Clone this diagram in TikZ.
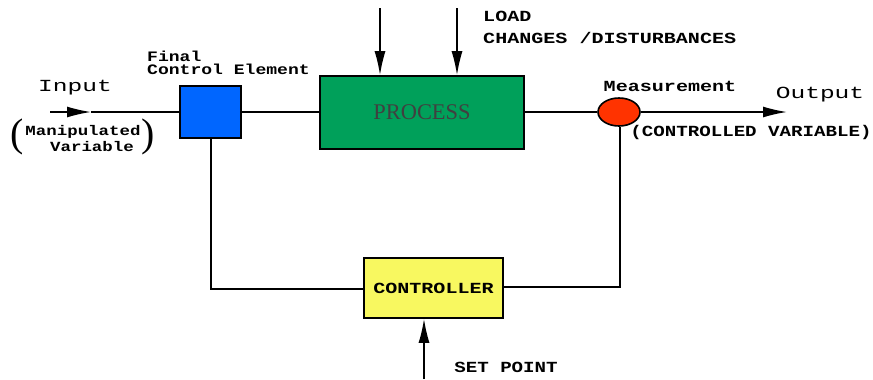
\documentclass[tikz,border=0pt]{standalone}
\usepackage{fontspec}
\usepackage{graphicx}
\setmainfont{Liberation Serif}
\newfontfamily\labfont{Liberation Mono}
\usetikzlibrary{arrows.meta,shapes.geometric}
\definecolor{fceblue}{RGB}{0,102,255}
\definecolor{procgreen}{RGB}{0,160,90}
\definecolor{measred}{RGB}{255,51,0}
\definecolor{ctrlyellow}{RGB}{248,248,96}
\newcommand{\widetxt}[2][1.3]{\scalebox{#1}[1]{#2}}
\tikzset{
  wire/.style={line width=1.6bp, black},
  arrowwire/.style={wire, -{Latex[length=24bp,width=11bp]}},
  blockbox/.style={draw, line width=1.6bp, rectangle, inner sep=0pt},
  lab/.style={font=\labfont\bfseries\fontsize{15.5}{18}\selectfont, inner sep=0pt},
  biglab/.style={font=\labfont\fontsize{17}{20}\selectfont, inner sep=0pt},
  parenlab/.style={font=\fontsize{40}{40}\selectfont, inner sep=0pt},
}
\begin{document}
\begin{tikzpicture}[x=1bp,y=-1bp]
\useasboundingbox[fill=white] (0,0) rectangle (873,379);
% blocks
\node[blockbox, fill=fceblue, minimum width=61bp, minimum height=52bp] (fce) at (210.5,112) {};
\node[blockbox, fill=procgreen, minimum width=204bp, minimum height=73bp,
      font=\fontsize{22.5}{24}\selectfont, text=black!75] (proc) at (422,112.5) {PROCESS};
\node[draw, ellipse, line width=1.6bp, fill=measred, minimum width=42bp, minimum height=28bp, inner sep=0pt] (meas) at (619,112) {};
\node[blockbox, fill=ctrlyellow, minimum width=139bp, minimum height=60bp, lab] (ctrl) at (433.5,288) {\widetxt{CONTROLLER}};
% coordinates
\coordinate (in) at (50,112);
\coordinate (inmid) at (91,112);
\coordinate (out) at (787,112);
\coordinate (ld1) at (380,8);
\coordinate (ld2) at (457,8);
\coordinate (sp) at (424,379);
\coordinate (fbR) at (620,287);
\coordinate (fbL) at (211,289);
% connectors
\draw[arrowwire] (in) -- (inmid);
\draw[wire] (inmid) -- (fce.west);
\draw[wire] (fce.east) -- (fce.east -| proc.west);
\draw[wire] (proc.east |- meas.west) -- (meas.west);
\draw[arrowwire] (meas.east) -- (out);
\draw[arrowwire] (ld1) -- (ld1 |- proc.north);
\draw[arrowwire] (ld2) -- (ld2 |- proc.north);
\draw[wire] (fbR |- meas.south) -- (fbR) -- (fbR -| ctrl.east);
\draw[wire] (fbL -| ctrl.west) -- (fbL) -- (fbL |- fce.south);
\draw[arrowwire] (sp) -- (sp |- ctrl.south);
% labels
\node[lab, anchor=west, align=left, font=\labfont\bfseries\fontsize{14.5}{13}\selectfont] (fcelab) at (147,63) {\widetxt[1.25]{Final}\\\widetxt[1.25]{Control Element}};
\node[biglab] (inlab) at (75,88) {\widetxt[1.45]{Input}};
\node[lab, font=\labfont\bfseries\fontsize{14}{15}\selectfont] (manlab1) at (83,132) {\widetxt[1.25]{Manipulated}};
\node[lab, font=\labfont\bfseries\fontsize{14}{15}\selectfont] (manlab2) at (92,147) {\widetxt[1.25]{Variable}};
\node[parenlab] (lparen) at (17,137) {(};
\node[parenlab] (rparen) at (148,137) {)};
\node[lab, anchor=west] (loadlab) at (483,16) {\widetxt{LOAD}};
\node[lab, anchor=west] (chglab) at (483,38) {\widetxt{CHANGES /DISTURBANCES}};
\node[lab] (measlab) at (670,86) {\widetxt{Measurement}};
\node[biglab] (outlab) at (820,95) {\widetxt[1.45]{Output}};
\node[lab] (cvlab) at (751,133) {\widetxt[1.24]{(CONTROLLED VARIABLE)}};
\node[lab] (splab) at (506,367) {\widetxt[1.24]{SET POINT}};
\end{tikzpicture}
\end{document}
